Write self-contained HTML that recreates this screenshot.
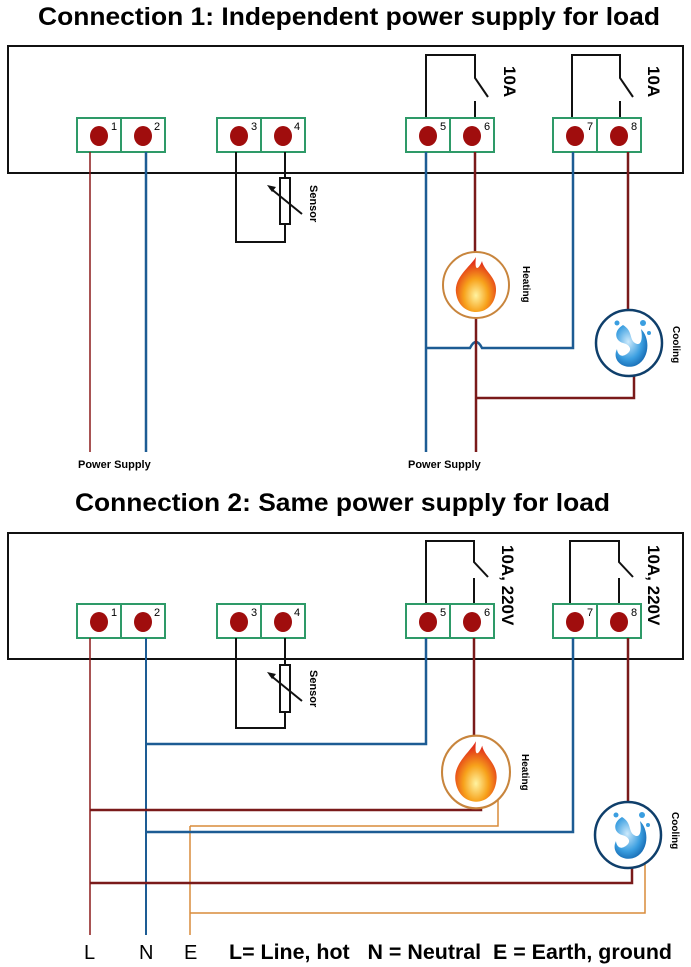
<!DOCTYPE html>
<html><head><meta charset="utf-8"><style>
html,body{margin:0;padding:0;background:#fff;}
svg{display:block;font-family:"Liberation Sans",Arial,sans-serif;}
</style></head><body>
<svg width="691" height="967" viewBox="0 0 691 967" xmlns="http://www.w3.org/2000/svg">
<defs>
<radialGradient id="fire" cx="50%" cy="70%" r="60%"><stop offset="0" stop-color="#fff3a0"/><stop offset="0.5" stop-color="#f7a21b"/><stop offset="1" stop-color="#e2321a"/></radialGradient>
<radialGradient id="water" cx="40%" cy="40%" r="70%"><stop offset="0" stop-color="#cdeafc"/><stop offset="0.6" stop-color="#3a9ee0"/><stop offset="1" stop-color="#0d5ea8"/></radialGradient>
<g id="term">
<rect x="0" y="0" width="88" height="34" fill="#fff" stroke="#2e9a68" stroke-width="2"/>
<line x1="44" y1="0" x2="44" y2="34" stroke="#2e9a68" stroke-width="2"/>
<ellipse cx="22" cy="18" rx="9" ry="10" fill="#a00d0d"/>
<ellipse cx="66" cy="18" rx="9" ry="10" fill="#a00d0d"/>
</g>
<g id="heat">
<circle r="33" fill="#fff" stroke="#c8853d" stroke-width="2"/>
<path d="M0,-28 C-6,-18 -22,-8 -20,8 C-18,22 -8,27 0,27 C10,27 19,20 20,6 C21,-8 8,-14 6,-24 C3,-16 -2,-12 0,-28Z" fill="url(#fire)"/>
</g>
<g id="cool">
<circle r="33" fill="#fff" stroke="#0f3f6b" stroke-width="2.5"/>
<path d="M-6,-18 C-16,-12 -14,-2 -6,0 C2,2 4,8 -4,12 C-10,15 -12,8 -12,6 C-18,18 -4,28 8,22 C20,16 22,-4 12,-14 C14,-4 12,4 6,0 C0,-4 4,-12 -6,-18Z" fill="url(#water)"/>
<circle cx="-12" cy="-20" r="2.5" fill="#3a9ee0"/><circle cx="14" cy="-20" r="3" fill="#3a9ee0"/><circle cx="20" cy="-10" r="2" fill="#3a9ee0"/>
</g>
</defs>

<!-- ===== Connection 1 ===== -->
<text x="38" y="25" font-size="25" font-weight="bold" textLength="622" lengthAdjust="spacingAndGlyphs">Connection 1: Independent power supply for load</text>
<rect x="8" y="46" width="675" height="127" fill="none" stroke="#111" stroke-width="2"/>
<g fill="none" stroke="#111" stroke-width="2">
<path d="M426,118 V55 H475 V78 L488,97"/><path d="M475,101 V118"/>
<path d="M572,118 V55 H620 V78 L633,97"/><path d="M620,101 V118"/>
</g>
<text transform="translate(504,66) rotate(90)" font-size="17" font-weight="bold">10A</text>
<text transform="translate(648,66) rotate(90)" font-size="17" font-weight="bold">10A</text>
<use href="#term" x="77" y="118"/><use href="#term" x="217" y="118"/><use href="#term" x="406" y="118"/><use href="#term" x="553" y="118"/>
<g font-size="11"><text x="111" y="130">1</text><text x="154" y="130">2</text><text x="251" y="130">3</text><text x="294" y="130">4</text><text x="440" y="130">5</text><text x="484" y="130">6</text><text x="587" y="130">7</text><text x="631" y="130">8</text></g>
<g fill="none" stroke="#111" stroke-width="2">
<path d="M236,152 V242 H285 V224"/><path d="M285,178 V152"/>
<rect x="280" y="178" width="10" height="46" fill="#fff"/>
<line x1="302" y1="214" x2="270" y2="188"/>
</g>
<path d="M267,185 l9,2 l-4,5z" fill="#111"/>
<text transform="translate(310,185) rotate(90)" font-size="11" font-weight="bold">Sensor</text>
<g fill="none" stroke-width="2.5">
<path d="M90,152 V452" stroke="#8b1a1a" stroke-width="1.5"/>
<path d="M146,152 V452" stroke="#1d5c94"/>
<path d="M426,152 V452" stroke="#1d5c94"/>
<path d="M426,348 H470 Q476,336 482,348 H573 V152" stroke="#1d5c94"/>
<path d="M475,152 V252" stroke="#7a1a1a"/>
<path d="M476,318 V452" stroke="#7a1a1a"/>
<path d="M476,398 H634 V375" stroke="#7a1a1a"/>
<path d="M628,152 V309" stroke="#7a1a1a"/>
</g>
<use href="#heat" x="476" y="285"/>
<use href="#cool" x="629" y="343"/>
<text transform="translate(523,266) rotate(90)" font-size="10" font-weight="bold">Heating</text>
<text transform="translate(673,326) rotate(90)" font-size="10" font-weight="bold">Cooling</text>
<text x="78" y="468" font-size="11" font-weight="bold">Power Supply</text>
<text x="408" y="468" font-size="11" font-weight="bold">Power Supply</text>

<!-- ===== Connection 2 ===== -->
<text x="75" y="511" font-size="25" font-weight="bold" textLength="535" lengthAdjust="spacingAndGlyphs">Connection 2: Same power supply for load</text>
<rect x="8" y="533" width="675" height="126" fill="none" stroke="#111" stroke-width="2"/>
<g fill="none" stroke="#111" stroke-width="2">
<path d="M426,604 V541 H474 V562 L488,577"/><path d="M474,578 V604"/>
<path d="M570,604 V541 H619 V562 L633,577"/><path d="M619,578 V604"/>
</g>
<text transform="translate(502,545) rotate(90)" font-size="17" font-weight="bold">10A, 220V</text>
<text transform="translate(648,545) rotate(90)" font-size="17" font-weight="bold">10A, 220V</text>
<use href="#term" x="77" y="604"/><use href="#term" x="217" y="604"/><use href="#term" x="406" y="604"/><use href="#term" x="553" y="604"/>
<g font-size="11"><text x="111" y="616">1</text><text x="154" y="616">2</text><text x="251" y="616">3</text><text x="294" y="616">4</text><text x="440" y="616">5</text><text x="484" y="616">6</text><text x="587" y="616">7</text><text x="631" y="616">8</text></g>
<g fill="none" stroke="#111" stroke-width="2">
<path d="M236,638 V728 H285 V712"/><path d="M285,665 V638"/>
<rect x="280" y="665" width="10" height="47" fill="#fff"/>
<line x1="302" y1="701" x2="270" y2="675"/>
</g>
<path d="M267,672 l9,2 l-4,5z" fill="#111"/>
<text transform="translate(310,670) rotate(90)" font-size="11" font-weight="bold">Sensor</text>
<g fill="none" stroke-width="2.5">
<path d="M90,638 V935" stroke="#8b1a1a" stroke-width="1.5"/>
<path d="M146,638 V935" stroke="#1d5c94" stroke-width="2"/>
<path d="M190,826 V935" stroke="#d98b3a" stroke-width="1.5"/>
<path d="M426,638 V744 H146" stroke="#1d5c94"/>
<path d="M474,638 V737" stroke="#7a1a1a"/>
<path d="M90,810 H481 V806" stroke="#7a1a1a"/>
<path d="M498,800 V826 H190" stroke="#d98b3a" stroke-width="1.5"/>
<path d="M573,638 V832 H146" stroke="#1d5c94"/>
<path d="M628,638 V802" stroke="#7a1a1a"/>
<path d="M90,883 H632 V868" stroke="#7a1a1a"/>
<path d="M645,862 V913 H190" stroke="#d98b3a" stroke-width="1.5"/>
</g>
<g transform="translate(476,772) scale(1.03,1.1)"><use href="#heat"/></g>
<use href="#cool" x="628" y="835"/>
<text transform="translate(522,754) rotate(90)" font-size="10" font-weight="bold">Heating</text>
<text transform="translate(672,812) rotate(90)" font-size="10" font-weight="bold">Cooling</text>
<g font-size="20"><text x="84" y="959">L</text><text x="139" y="959">N</text><text x="184" y="959">E</text></g>
<text x="229" y="959" font-size="21" font-weight="bold" textLength="443" lengthAdjust="spacingAndGlyphs">L= Line, hot&#160;&#160; N = Neutral&#160; E = Earth, ground</text>
</svg>
</body></html>
